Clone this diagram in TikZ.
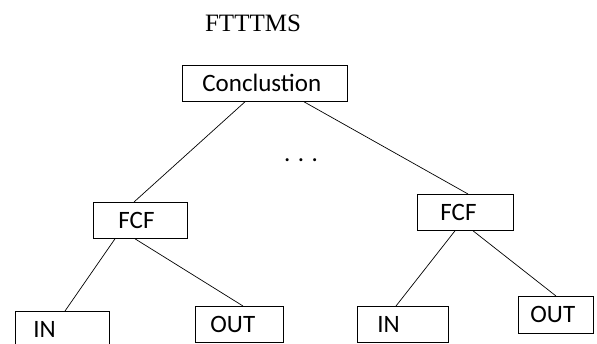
\documentclass[tikz,border=0pt]{standalone}
\usepackage{fontspec}
\setmainfont{Liberation Serif}
\newfontfamily\boxfont{Carlito}

\tikzset{
  box/.style={draw, line width=0.8pt, rectangle, anchor=north west, align=left,
    inner ysep=0pt, minimum height=36pt, text height=16pt, text depth=0pt,
    font=\boxfont\fontsize{25}{25}\selectfont},
  edge/.style={line width=0.7pt}
}

\begin{document}
\begin{tikzpicture}[x=1pt, y=-1pt]

    \useasboundingbox (0,0) rectangle (597,343);
    \clip (0,0) rectangle (597,343);

    % title
    \node[anchor=base, font=\fontsize{25}{25}\selectfont] (title) at (253,31) {FTTTMS};

    % root
    \node[box, inner xsep=20pt, text width=125pt] (concl) at (182,65) {Conclustion};

    \node[anchor=base, font=\boxfont\fontsize{25}{25}\selectfont] (dots) at (301,161) {. . .};

    % left subtree
    \begin{scope}[]
    \node[box, inner xsep=25pt, text width=44pt] (fcfL) at (93,202) {FCF};
    \node[box, inner xsep=18pt, text width=58pt] (inL) at (15,311) {IN};
    \node[box, inner xsep=15pt, text width=58pt] (outL) at (195,306) {OUT};
    \end{scope}

    % right subtree
    \begin{scope}[]
    \node[box, inner xsep=23pt, text width=50pt] (fcfR) at (417,194) {FCF};
    \node[box, inner xsep=20pt, text width=51pt] (inR) at (357,306) {IN};
    \node[box, inner xsep=12pt, text width=51pt, minimum height=37pt] (outR) at (518,296) {OUT};
    \end{scope}

    \draw[edge] ([xshift=63pt]concl.south west) -- ([xshift=41pt]fcfL.north west);
    \draw[edge] ([xshift=122pt]concl.south west) -- ([xshift=51pt]fcfR.north west);

    \draw[edge] ([xshift=22pt]fcfL.south west) -- ([xshift=50pt]inL.north west);
    \draw[edge] ([xshift=42pt]fcfL.south west) -- ([xshift=48pt]outL.north west);

    \draw[edge] ([xshift=38pt]fcfR.south west) -- ([xshift=39pt]inR.north west);
    \draw[edge] ([xshift=56pt]fcfR.south west) -- ([xshift=38pt]outR.north west);

\end{tikzpicture}
\end{document}
